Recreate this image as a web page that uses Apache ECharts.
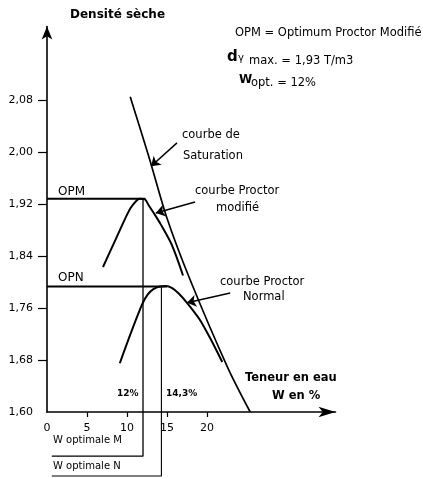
<!DOCTYPE html>
<html>
<head>
<meta charset="utf-8">
<script src="https://cdn.jsdelivr.net/npm/echarts@6/dist/echarts.min.js"></script>
<style>
  html, body { margin: 0; padding: 0; background: #fff; }
  #main { width: 423px; height: 478px; }
</style>
</head>
<body>
<div id="main"></div>
<script>
// teneur en eau (%) / densite seche
var opmW = [7.0, 8.6, 10.1, 10.75, 11.6, 12.25, 12.7, 13.4, 14.2, 15.6, 17.0];
var opmD = [1.823, 1.866, 1.906, 1.919, 1.928, 1.927, 1.918, 1.905, 1.889, 1.857, 1.810];

var opnW = [9.1, 10.5, 11.9, 12.6, 13.3, 14.1, 14.9, 15.6, 16.4, 17.5, 19.1, 20.5, 21.9];
var opnD = [1.675, 1.722, 1.766, 1.781, 1.789, 1.793, 1.794, 1.791, 1.783, 1.768, 1.742, 1.711, 1.677];

var satW = [10.4, 12.75, 15.0, 17.9, 22.6, 25.4];
var satD = [2.085, 1.992, 1.898, 1.803, 1.668, 1.60];

// optimums
var wOptM = 12, dOptM = 1.928;
var wOptN = 14.3, dOptN = 1.793;

var xTicks = [0, 5, 10, 15, 20];
var yTicks = [1.60, 1.68, 1.76, 1.84, 1.92, 2.00, 2.08];

function pairs(xs, ys) {
  return xs.map(function (x, i) { return [x, ys[i]]; });
}

var black = '#000';
var font = '"DejaVu Sans", sans-serif';

function txt(x, y, s, size, bold) {
  return {
    type: 'text', x: x, y: y, silent: true,
    style: {
      text: s, fill: black, align: 'left', verticalAlign: 'middle',
      textAlign: 'left', textVerticalAlign: 'middle',
      font: (bold ? 'bold ' : '') + size + 'px ' + font
    }
  };
}

var myChart = echarts.init(document.getElementById('main'));

var option = {
  animation: false,
  backgroundColor: '#fff',
  grid: { left: 47, right: 87.5, top: 26.5, bottom: 66 },
  xAxis: {
    type: 'value',
    min: 0,
    max: 36.06,
    splitLine: { show: false },
    axisLine: { lineStyle: { color: black, width: 1.6 }, symbol: ['none', 'arrow'], symbolSize: [8, 17] },
    axisTick: { customValues: [5, 10, 15, 20], length: 5, lineStyle: { color: black, width: 1.2 } },
    axisLabel: { customValues: xTicks, color: black, fontSize: 11, fontFamily: font, margin: 11 }
  },
  yAxis: {
    type: 'value',
    min: 1.6,
    max: 2.193,
    splitLine: { show: false },
    axisLine: { onZero: false, lineStyle: { color: black, width: 1.6 }, symbol: ['none', 'arrow'], symbolSize: [8, 13] },
    axisTick: { customValues: yTicks.slice(1), length: 9, lineStyle: { color: black, width: 1.2 } },
    axisLabel: {
      customValues: yTicks, color: black, fontSize: 11, fontFamily: font, margin: 14,
      formatter: function (v) { return v.toFixed(2).replace('.', ','); }
    }
  },
  series: [
    {
      name: 'courbe Proctor modifié', type: 'line', data: pairs(opmW, opmD),
      smooth: 0.3, showSymbol: false,
      lineStyle: { color: black, width: 2 },
      markLine: {
        silent: true, symbol: ['none', 'arrow'], symbolSize: 9, label: { show: false },
        lineStyle: { color: black, width: 1.5, type: 'solid' },
        data: [
          [{ coord: [18.5, 1.923] }, { coord: [13.6, 1.906] }],
          [{ coord: [16.25, 2.014] }, { coord: [13.0, 1.978] }],
          [{ coord: [22.9, 1.783] }, { coord: [17.5, 1.768] }]
        ]
      }
    },
    {
      name: 'courbe Proctor Normal', type: 'line', data: pairs(opnW, opnD),
      smooth: 0.3, showSymbol: false,
      lineStyle: { color: black, width: 2 }
    },
    {
      name: 'courbe de Saturation', type: 'line', data: pairs(satW, satD),
      smooth: 0.3, showSymbol: false,
      lineStyle: { color: black, width: 1.7 }
    },
    {
      name: 'OPM', type: 'line', data: [[0, dOptM], [wOptM + 0.3, dOptM]],
      showSymbol: false, lineStyle: { color: black, width: 2 }
    },
    {
      name: 'OPN', type: 'line', data: [[0, dOptN], [wOptN + 0.7, dOptN]],
      showSymbol: false, lineStyle: { color: black, width: 2 }
    },
    {
      name: 'W optimale M', type: 'line', clip: false,
      data: [[wOptM, dOptM], [wOptM, 1.532], [0.6, 1.532]],
      showSymbol: false, lineStyle: { color: black, width: 1.3 }
    },
    {
      name: 'W optimale N', type: 'line', clip: false,
      data: [[wOptN, dOptN], [wOptN, 1.5015], [0.6, 1.5015]],
      showSymbol: false, lineStyle: { color: black, width: 1.1 }
    }
  ],
  graphic: [
    txt(70, 15, 'Densité sèche', 12, true),
    txt(235, 33, 'OPM = Optimum Proctor Modifié', 11.5),
    txt(227, 57, 'd', 15, true),
    txt(238, 58, 'γ', 10),
    txt(249, 61, 'max. = 1,93 T/m3', 11.5),
    txt(239, 80, 'W', 12, true),
    txt(251, 83, 'opt. = 12%', 11.5),
    txt(182, 135, 'courbe de', 11.5),
    txt(183, 156, 'Saturation', 11.5),
    txt(195, 191, 'courbe Proctor', 11.5),
    txt(216, 208, 'modifié', 11.5),
    txt(220, 282, 'courbe Proctor', 11.5),
    txt(243, 297, 'Normal', 11.5),
    txt(58, 192, 'OPM', 12),
    txt(58, 278, 'OPN', 12),
    txt(117, 394, '12%', 9, true),
    txt(166, 394, '14,3%', 9, true),
    txt(245, 378, 'Teneur en eau', 11.5, true),
    txt(272, 396, 'W en %', 11.5, true),
    txt(53, 440, 'W optimale M', 10),
    txt(53, 466, 'W optimale N', 10)
  ]
};

myChart.setOption(option);
</script>
</body>
</html>
